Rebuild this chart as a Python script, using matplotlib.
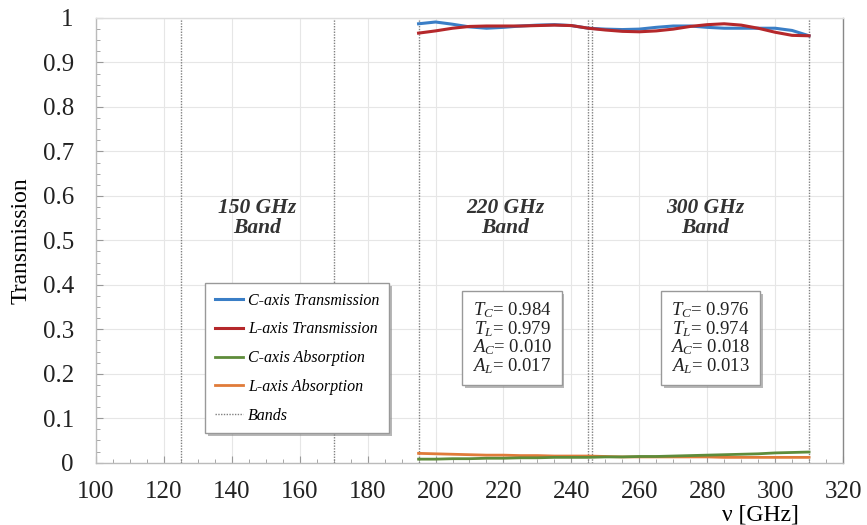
import matplotlib
matplotlib.use("Agg")
import matplotlib.pyplot as plt
import numpy as np
from matplotlib.ticker import MultipleLocator
import matplotlib.patheffects as pe

plt.rcParams['font.family'] = ['Liberation Serif', 'DejaVu Serif']
plt.rcParams['mathtext.fontset'] = 'custom'
plt.rcParams['mathtext.it'] = 'Liberation Serif:italic'
plt.rcParams['mathtext.rm'] = 'Liberation Serif'

# Data
freq = [195, 200, 205, 210, 215, 220, 225, 230, 235, 240, 245, 250, 255, 260, 265, 270, 275,
        280, 285, 290, 295, 300, 305, 310]
t_c = [0.987, 0.991, 0.986, 0.980, 0.977, 0.979, 0.982, 0.984, 0.985, 0.983, 0.977, 0.975,
       0.974, 0.975, 0.979, 0.982, 0.982, 0.979, 0.977, 0.977, 0.977, 0.977, 0.972, 0.960]
t_l = [0.966, 0.971, 0.977, 0.981, 0.982, 0.982, 0.982, 0.983, 0.984, 0.983, 0.977, 0.973,
       0.970, 0.969, 0.971, 0.975, 0.981, 0.985, 0.987, 0.984, 0.977, 0.968, 0.961, 0.960]
a_c = [0.008, 0.008, 0.009, 0.009, 0.010, 0.010, 0.011, 0.011, 0.012, 0.012, 0.012, 0.013,
       0.013, 0.014, 0.014, 0.015, 0.016, 0.017, 0.018, 0.019, 0.020, 0.022, 0.023, 0.024]
a_l = [0.021, 0.020, 0.019, 0.018, 0.017, 0.017, 0.016, 0.016, 0.015, 0.015, 0.015, 0.014,
       0.013, 0.013, 0.013, 0.013, 0.013, 0.013, 0.012, 0.012, 0.012, 0.012, 0.012, 0.012]
band_edges = [125, 170, 195, 245, 246, 310]
band_labels = ["150 GHz\nBand", "220 GHz\nBand", "300 GHz\nBand"]
band_label_x = [147.5, 220.5, 279.5]
stats_220 = ["0.984", "0.979", "0.010", "0.017"]
stats_300 = ["0.976", "0.974", "0.018", "0.013"]

fig = plt.figure(figsize=(8.67, 5.25), dpi=100)
ax = fig.add_axes([96/867, 1-462.7/525, (843-96)/867, (462.7-18)/525])

ax.plot(freq, t_c, color='#3a7ec6', lw=2.2, label='C-axis Transmission', zorder=4)
ax.plot(freq, t_l, color='#b5282b', lw=2.2, label='L-axis Transmission', zorder=5)
ax.plot(freq, a_c, color='#5e8c3a', lw=2.0, label='C-axis Absorption', zorder=4)
ax.plot(freq, a_l, color='#e07b39', lw=2.0, label='L-axis Absorption', zorder=3)
for i, b in enumerate(band_edges):
    ax.axvline(b, color='#808080', ls=(0, (1, 1)), lw=1.0, zorder=2,
               label='Bands' if i == 0 else None)

ax.set_xlim(100, 320)
ax.set_ylim(0, 1)
ax.xaxis.set_major_locator(MultipleLocator(20))
ax.xaxis.set_minor_locator(MultipleLocator(5))
ax.yaxis.set_minor_locator(MultipleLocator(0.025))
ax.set_yticks(np.arange(0, 1.01, 0.1))
ax.set_yticklabels(['0'] + [f'{v:.1f}' for v in np.arange(0.1, 0.95, 0.1)] + ['1'])
ax.grid(True, which='major', color='#e6e6e6', lw=0.8, zorder=0)
ax.tick_params(which='both', direction='in', colors='#999999', labelcolor='#222222',
               labelsize=18, top=False, right=False)
ax.tick_params(which='major', length=5)
ax.tick_params(which='minor', length=3)
ax.tick_params(axis='x', pad=13)
ax.tick_params(axis='y', pad=16)
for s in ax.spines.values():
    s.set_color('#bbbbbb')
    s.set_linewidth(1.0)
ax.spines['right'].set_color('#888888')
ax.spines['top'].set_color('#dddddd')

ax.set_ylabel('Transmission', fontsize=17, labelpad=8)
fig.text(760/867, 1-515/525, 'ν [GHz]', fontsize=17, ha='center', va='center')

for x, lbl in zip(band_label_x, band_labels):
    ax.text(x, 0.55, lbl, ha='center', va='center', fontsize=15.5,
            fontstyle='italic', fontweight='bold', color='#333333', linespacing=1.05)

shadow = [pe.SimplePatchShadow(offset=(2, -2), shadow_rgbFace='#888888', alpha=0.6), pe.Normal()]

def stat_box(x, vals):
    txt = ("$T_C$= {}\n$T_L$= {}\n$A_C$= {}\n$A_L$= {}").format(*vals)
    t = ax.text(x, 0.28, txt, ha='center', va='center', fontsize=13.5, linespacing=0.92,
                color='#222222',
                bbox=dict(boxstyle='square,pad=0.5', fc='white', ec='#999999', lw=1.0), zorder=6)
    t.get_bbox_patch().set_path_effects(shadow)

stat_box(222.5, stats_220)
stat_box(281, stats_300)

leg = ax.legend(loc='upper left', bbox_to_anchor=((205-96)/747, 1-(283-18)/444.7),
                prop={'style': 'italic', 'size': 11.5}, frameon=True, framealpha=1.0,
                facecolor='white', fancybox=False, edgecolor='#999999', handlelength=1.8,
                handletextpad=0.3, labelspacing=0.8, borderpad=0.6, borderaxespad=0)
leg.get_frame().set_path_effects(shadow)
leg.set_zorder(7)

fig.savefig('out.png', dpi=100)
